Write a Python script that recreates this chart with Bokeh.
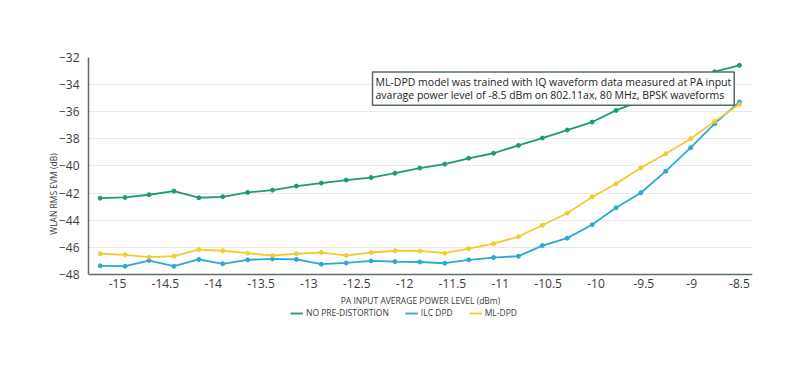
from bokeh.plotting import figure
from bokeh.models import Range1d, Label, Legend, LegendItem, FixedTicker
from bokeh.embed import file_html
from bokeh.resources import INLINE

# ---- data ----
power_dbm = [-15.18, -14.92, -14.67, -14.41, -14.15, -13.90, -13.64, -13.38, -13.13,
             -12.87, -12.61, -12.35, -12.10, -11.84, -11.58, -11.33, -11.07, -10.81,
             -10.56, -10.30, -10.04, -9.79, -9.53, -9.27, -9.01, -8.76, -8.50]
no_predistortion = [-42.37, -42.32, -42.12, -41.85, -42.34, -42.27, -41.95, -41.78, -41.48,
                    -41.26, -41.04, -40.85, -40.53, -40.15, -39.86, -39.43, -39.06, -38.48,
                    -37.94, -37.35, -36.76, -35.90, -35.20, -34.50, -33.80, -33.05, -32.58]
ilc_dpd = [-47.36, -47.39, -46.97, -47.39, -46.89, -47.21, -46.92, -46.85, -46.89,
           -47.24, -47.15, -47.00, -47.05, -47.08, -47.17, -46.92, -46.75, -46.65,
           -45.87, -45.32, -44.33, -43.08, -41.97, -40.38, -38.65, -36.88, -35.28]
ml_dpd = [-46.47, -46.55, -46.72, -46.65, -46.16, -46.25, -46.43, -46.60, -46.47,
          -46.38, -46.60, -46.38, -46.25, -46.26, -46.43, -46.10, -45.73, -45.21,
          -44.37, -43.48, -42.29, -41.31, -40.13, -39.10, -37.99, -36.71, -35.45]
series_names = ["NO PRE-DISTORTION", "ILC DPD", "ML-DPD"]
x_ticks = [-15, -14.5, -14, -13.5, -13, -12.5, -12, -11.5, -11, -10.5, -10, -9.5, -9, -8.5]
x_tick_labels = ["-15", "-14.5", "-14", "-13.5", "-13", "-12.5", "-12", "-11.5", "-11",
                 "-10.5", "-10", "-9.5", "-9", "-8.5"]
y_ticks = [-48, -46, -44, -42, -40, -38, -36, -34, -32]
note_text = ("ML-DPD model was trained with IQ waveform data measured at PA input\n"
             "avarage power level of -8.5 dBm on 802.11ax, 80 MHz, BPSK waveforms")

colors = ["#1f9c6d", "#2ba8d5", "#f0cd2d"]
FONT = "Open Sans"
TXT = "#3a3a3a"

# frame extends below the x axis so that the legend sits inside it
p = figure(width=792, height=340, output_backend="svg", toolbar_location=None,
           x_range=Range1d(-15.303, -8.364), y_range=Range1d(-52.13, -32),
           min_border_left=88, min_border_right=40, min_border_top=57, min_border_bottom=10)
p.outline_line_color = None
p.background_fill_color = "white"
p.border_fill_color = "white"

p.xgrid.grid_line_color = None
p.ygrid.grid_line_color = "#e9e9e9"
p.ygrid.grid_line_width = 1

p.xaxis.ticker = FixedTicker(ticks=x_ticks)
p.xaxis.major_label_overrides = {t: l for t, l in zip(x_ticks, x_tick_labels)}
p.xaxis.fixed_location = -48
p.yaxis.ticker = FixedTicker(ticks=y_ticks)
p.yaxis.bounds = (-48, -32)
for ax in (p.xaxis, p.yaxis):
    ax.axis_line_color = "#5d6b69"
    ax.axis_line_width = 1.5
    ax.major_tick_line_color = None
    ax.minor_tick_line_color = None
    ax.major_tick_out = 0
    ax.major_tick_in = 0
    ax.major_label_text_font = FONT
    ax.major_label_text_font_size = "12px"
    ax.major_label_text_color = TXT
p.yaxis.major_label_standoff = 9
p.xaxis.major_label_standoff = 5
p.xaxis.axis_label = "PA INPUT AVERAGE POWER LEVEL (dBm)"
p.xaxis.axis_label_standoff = 3
p.yaxis.axis_label = "WLAN RMS EVM (dB)"
p.yaxis.axis_label_standoff = -3
for ax in (p.xaxis, p.yaxis):
    ax.axis_label_text_font = FONT
    ax.axis_label_text_font_size = "8.5px"
    ax.axis_label_text_font_style = "normal"
    ax.axis_label_text_color = TXT

renderers = []
for ys, c in zip([no_predistortion, ilc_dpd, ml_dpd], colors):
    r = p.line(power_dbm, ys, line_color=c, line_width=1.8)
    p.scatter(power_dbm, ys, marker="circle", size=4, fill_color=c, line_color=c)
    renderers.append(r)

legend = Legend(items=[LegendItem(label=n, renderers=[r]) for n, r in zip(series_names, renderers)],
                orientation="horizontal", location=(202, 12),
                label_text_font=FONT, label_text_font_size="8.5px", label_text_color=TXT,
                glyph_width=13, glyph_height=8, label_standoff=3, spacing=16,
                padding=0, margin=0, border_line_color=None, background_fill_alpha=0,
                label_height=10)
p.add_layout(legend)

note = Label(x=-12.335, y=-33.07, text=note_text, text_align="left", text_baseline="top",
             text_font=FONT, text_font_size="10.5px", text_color="#222222",
             background_fill_color="white", border_line_color="#55696a",
             border_line_width=1.5, padding=3, text_line_height=0.95)
p.add_layout(note)

open("out.html", "w").write(file_html(p, INLINE))
